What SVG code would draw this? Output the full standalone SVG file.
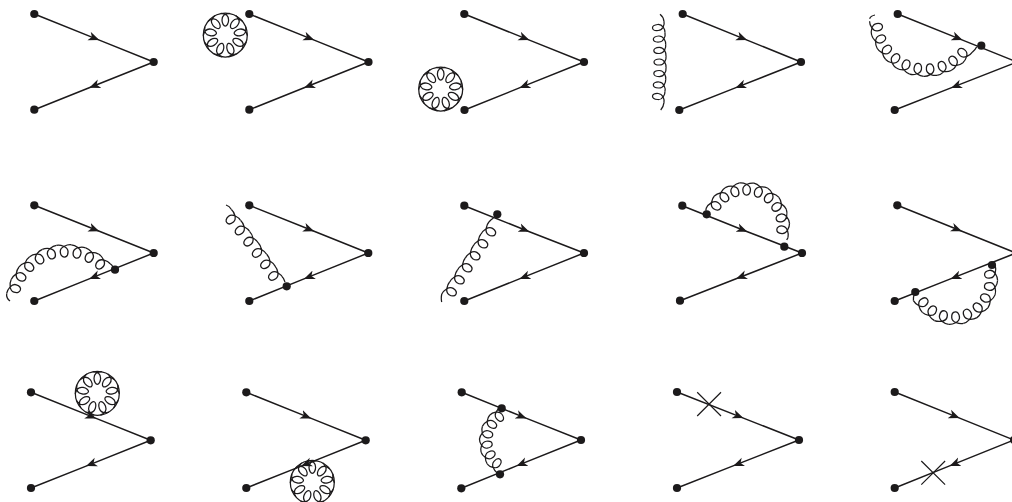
<svg xmlns="http://www.w3.org/2000/svg" width="1012" height="502" viewBox="0 0 1012 502">
<style>
.f{fill:none;stroke:#1c1a1b;stroke-width:1.5;marker-mid:url(#a)}
.g,.g use{fill:none;stroke:#1c1a1b;stroke-width:1.25}
.x{fill:none;stroke:#1c1a1b;stroke-width:1.2}
.n{fill:#1c1a1b}
</style>
<defs>
<marker id="a" markerUnits="userSpaceOnUse" markerWidth="12" markerHeight="10" refX="11" refY="5" orient="auto"><path d="M11,5L0,.5L3,5L0,9.5Z" fill="#1c1a1b" stroke="none"/></marker>
<path id="l" d="M-7,0C-3.5,-.5 3.7,1.5 3.7,6.5C3.7,10 2,12 0,12C-2,12 -3.7,10 -3.7,6.5C-3.7,1.5 3.5,-.5 7,0"/>
<path id="p" d="M-4.5,.4C-1,.5 3.3,2 3.3,7C3.3,10.5 1.5,13 0,13C-1.5,13 -3.3,10.5 -3.3,7C-3.3,2 1,.5 4.5,.4"/>
<g id="ring" class="g">
<circle r="22"/>
<use href="#p" transform="translate(0,-22)"/>
<use href="#p" transform="rotate(40) translate(0,-22)"/>
<use href="#p" transform="rotate(80) translate(0,-22)"/>
<use href="#p" transform="rotate(120) translate(0,-22)"/>
<use href="#p" transform="rotate(160) translate(0,-22)"/>
<use href="#p" transform="rotate(200) translate(0,-22)"/>
<use href="#p" transform="rotate(240) translate(0,-22)"/>
<use href="#p" transform="rotate(280) translate(0,-22)"/>
<use href="#p" transform="rotate(320) translate(0,-22)"/>
</g>
</defs>
<rect width="1012" height="502" fill="#fff"/>
<g id="connectors">
<path class="f" d="M34.3,14L99.3,40.1L153.7,62"/><path class="f" d="M153.7,62L89.2,87.8L34.3,109.7"/>
<path class="f" d="M249.3,14L314.2,40.1L368.5,62"/><path class="f" d="M368.5,62L304.1,87.8L249.3,109.7"/>
<path class="f" d="M464.3,14L529.4,40.1L584,62"/><path class="f" d="M584,62L519.4,87.9L464.5,110"/>
<path class="f" d="M682.7,14L747.1,40.1L801,62"/><path class="f" d="M801,62L735.3,87.9L679.3,110"/>
<path class="f" d="M897.7,14L962.6,40.1L1017,62"/><path class="f" d="M1017,62L951,87.9L894.7,110"/>
<path class="f" d="M34.3,205.3L99.3,231.3L153.7,253"/><path class="f" d="M153.7,253L89.2,278.9L34.3,301"/>
<path class="f" d="M249.3,205.3L314.1,231.3L368.3,253"/><path class="f" d="M368.3,253L304,278.9L249.3,301"/>
<path class="f" d="M464.3,205.7L529.4,231.7L584,253"/><path class="f" d="M584,253L519.4,278.9L464.3,301"/>
<path class="f" d="M682.3,205.7L747.4,231.7L802,253"/><path class="f" d="M802,253L736.1,278.8L680,300.7"/>
<path class="f" d="M897.3,205.3L961.9,231.3L1016,253"/><path class="f" d="M1016,253L950.5,278.9L894.7,301"/>
<path class="f" d="M31,392.3L96.1,418.4L150.7,440.3"/><path class="f" d="M150.7,440.3L86.1,466.1L31,488"/>
<path class="f" d="M246.3,392.3L311.2,418.4L365.7,440.3"/><path class="f" d="M365.7,440.3L301.2,466.1L246.3,488"/>
<path class="f" d="M461.7,392.3L526.6,418.4L581,440"/><path class="f" d="M581,440L516.5,465.9L461.3,488.3"/>
<path class="f" d="M677,392L743.4,418.1L799,440"/><path class="f" d="M799,440L733.1,465.9L677,488"/>
<path class="f" d="M894.7,392L959.6,418.1L1014,440"/><path class="f" d="M1014,440L949.6,465.9L894.7,488"/>

<g id="gluon4" class="g">
<path d="M660,14.3Q663.5,17 663.9,21.1M663.9,102.9Q663.5,107 660.7,110"/>
<g transform="translate(266,62)">
<use href="#l" transform="rotate(84.97) translate(0,-400) scale(.836,1)"/>
<use href="#l" transform="rotate(86.65) translate(0,-400) scale(.836,1)"/>
<use href="#l" transform="rotate(88.32) translate(0,-400) scale(.836,1)"/>
<use href="#l" transform="rotate(90) translate(0,-400) scale(.836,1)"/>
<use href="#l" transform="rotate(91.68) translate(0,-400) scale(.836,1)"/>
<use href="#l" transform="rotate(93.35) translate(0,-400) scale(.836,1)"/>
<use href="#l" transform="rotate(95.03) translate(0,-400) scale(.836,1)"/>
</g></g>

<g id="gluon5" class="g">
<path d="M976.7,46.7Q975.5,49.5 972.3,52.2M869.6,18.8Q870.5,16 875,15"/>
<g transform="translate(926,20)">
<use href="#l" transform="rotate(132) translate(0,-56) scale(1.01,1)"/>
<use href="#l" transform="rotate(146.4) translate(0,-56) scale(1.01,1)"/>
<use href="#l" transform="rotate(160.8) translate(0,-56) scale(1.01,1)"/>
<use href="#l" transform="rotate(175.2) translate(0,-56) scale(1.01,1)"/>
<use href="#l" transform="rotate(189.6) translate(0,-56) scale(1.01,1)"/>
<use href="#l" transform="rotate(204) translate(0,-56) scale(1.01,1)"/>
<use href="#l" transform="rotate(218.4) translate(0,-56) scale(1.01,1)"/>
<use href="#l" transform="rotate(232.8) translate(0,-56) scale(1.01,1)"/>
<use href="#l" transform="rotate(247.2) translate(0,-56) scale(1.01,1)"/>
<use href="#l" transform="rotate(261.6) translate(0,-56) scale(1.01,1)"/>
</g></g>

<g id="gluon6" class="g">
<path d="M113,267Q112,265 110.2,263.8M6.7,293.5Q6,298 10,301"/>
<g transform="translate(66,305)">
<use href="#l" transform="rotate(40) translate(0,-60) scale(1.05,1)"/>
<use href="#l" transform="rotate(26) translate(0,-60) scale(1.05,1)"/>
<use href="#l" transform="rotate(12) translate(0,-60) scale(1.05,1)"/>
<use href="#l" transform="rotate(-2) translate(0,-60) scale(1.05,1)"/>
<use href="#l" transform="rotate(-16) translate(0,-60) scale(1.05,1)"/>
<use href="#l" transform="rotate(-30) translate(0,-60) scale(1.05,1)"/>
<use href="#l" transform="rotate(-44) translate(0,-60) scale(1.05,1)"/>
<use href="#l" transform="rotate(-58) translate(0,-60) scale(1.05,1)"/>
<use href="#l" transform="rotate(-72) translate(0,-60) scale(1.05,1)"/>
</g></g>

<g id="gluon7" class="g">
<path d="M285,282L283.2,277.8M231.4,209.5Q229.5,206 226,205"/>
<use href="#l" transform="translate(279,272) rotate(56) scale(1.02,1)"/>
<use href="#l" transform="translate(271,260.3) rotate(55) scale(1.02,1)"/>
<use href="#l" transform="translate(262.6,248.7) rotate(53.5) scale(1.02,1)"/>
<use href="#l" transform="translate(254,237.3) rotate(52.5) scale(1.02,1)"/>
<use href="#l" transform="translate(245.2,226) rotate(51) scale(1.02,1)"/>
<use href="#l" transform="translate(236,215) rotate(50) scale(1.02,1)"/>
</g>

<g id="gluon8" class="g">
<path d="M493.5,218Q491,219.5 488.9,222M441.8,294Q440.8,298 441.7,302"/>
<use href="#l" transform="translate(485,228) rotate(-57) scale(1.02,1)"/>
<use href="#l" transform="translate(477.1,240) rotate(-57) scale(1.02,1)"/>
<use href="#l" transform="translate(469.3,252) rotate(-57) scale(1.02,1)"/>
<use href="#l" transform="translate(461.4,264) rotate(-57) scale(1.02,1)"/>
<use href="#l" transform="translate(453.6,276) rotate(-57) scale(1.02,1)"/>
<use href="#l" transform="translate(445.7,288) rotate(-57) scale(1.02,1)"/>
</g>

<g id="gluon9" class="g">
<path d="M705.8,210.6L706.3,207.9M788,237.6L786.7,240"/>
<g transform="translate(746,226)">
<use href="#l" transform="rotate(-56) translate(0,-43) scale(1.03,1)"/>
<use href="#l" transform="rotate(-37) translate(0,-43) scale(1.03,1)"/>
<use href="#l" transform="rotate(-18) translate(0,-43) scale(1.03,1)"/>
<use href="#l" transform="rotate(1) translate(0,-43) scale(1.03,1)"/>
<use href="#l" transform="rotate(20) translate(0,-43) scale(1.03,1)"/>
<use href="#l" transform="rotate(39) translate(0,-43) scale(1.03,1)"/>
<use href="#l" transform="rotate(58) translate(0,-43) scale(1.03,1)"/>
<use href="#l" transform="rotate(77) translate(0,-43) scale(1.03,1)"/>
<use href="#l" transform="rotate(96) translate(0,-43) scale(1.03,1)"/>
</g></g>

<g id="gluon10" class="g">
<path d="M993,265L995.3,265.9M913.4,300.6Q913,297 914.5,294"/>
<g transform="translate(953,280)">
<use href="#l" transform="rotate(81) translate(0,-44) scale(1.05,1)"/>
<use href="#l" transform="rotate(100) translate(0,-44) scale(1.05,1)"/>
<use href="#l" transform="rotate(119) translate(0,-44) scale(1.05,1)"/>
<use href="#l" transform="rotate(138) translate(0,-44) scale(1.05,1)"/>
<use href="#l" transform="rotate(157) translate(0,-44) scale(1.05,1)"/>
<use href="#l" transform="rotate(176) translate(0,-44) scale(1.05,1)"/>
<use href="#l" transform="rotate(195) translate(0,-44) scale(1.05,1)"/>
<use href="#l" transform="rotate(214) translate(0,-44) scale(1.05,1)"/>
<use href="#l" transform="rotate(233) translate(0,-44) scale(1.05,1)"/>
</g></g>

<g id="gluon13" class="g">
<g transform="translate(517,441)">
<use href="#l" transform="rotate(-36) translate(0,-37) scale(.95,1)"/>
<use href="#l" transform="rotate(-56.5) translate(0,-37) scale(.95,1)"/>
<use href="#l" transform="rotate(-77) translate(0,-37) scale(.95,1)"/>
<use href="#l" transform="rotate(-97) translate(0,-37) scale(.95,1)"/>
<use href="#l" transform="rotate(-117.5) translate(0,-37) scale(.95,1)"/>
<use href="#l" transform="rotate(-138) translate(0,-37) scale(.95,1)"/>
</g></g>
</g>

<g id="ring2"><use href="#ring" x="225.3" y="35"/></g>
<g id="ring3"><use href="#ring" x="440.7" y="89"/></g>
<g id="ring11"><use href="#ring" x="97.3" y="393.3"/></g>
<g id="ring12"><use href="#ring" x="312.3" y="482.3"/></g>
<g id="cross14"><path class="x" d="M697.2,392.3L721,416M721,392.3L697.2,416"/></g>
<g id="cross15"><path class="x" d="M921.3,461L945.1,484.6M945.1,461L921.3,484.6"/></g>

<g id="d1"><circle class="n" cx="34.3" cy="14" r="4.1"/><circle class="n" cx="153.7" cy="62" r="4.1"/><circle class="n" cx="34.3" cy="109.7" r="4.1"/></g>
<g id="d2"><circle class="n" cx="249.3" cy="14" r="4.1"/><circle class="n" cx="368.5" cy="62" r="4.1"/><circle class="n" cx="249.3" cy="109.7" r="4.1"/></g>
<g id="d3"><circle class="n" cx="464.3" cy="14" r="4.1"/><circle class="n" cx="584" cy="62" r="4.1"/><circle class="n" cx="464.5" cy="110" r="4.1"/></g>
<g id="d4"><circle class="n" cx="682.7" cy="14" r="4.1"/><circle class="n" cx="801" cy="62" r="4.1"/><circle class="n" cx="679.3" cy="110" r="4.1"/></g>
<g id="d5"><circle class="n" cx="897.7" cy="14" r="4.1"/><circle class="n" cx="981.3" cy="45.7" r="4.1"/><circle class="n" cx="1017" cy="62" r="4.1"/><circle class="n" cx="894.7" cy="110" r="4.1"/></g>
<g id="d6"><circle class="n" cx="34.3" cy="205.3" r="4.1"/><circle class="n" cx="115" cy="269.7" r="4.1"/><circle class="n" cx="153.7" cy="253" r="4.1"/><circle class="n" cx="34.3" cy="301" r="4.1"/></g>
<g id="d7"><circle class="n" cx="249.3" cy="205.3" r="4.1"/><circle class="n" cx="286.7" cy="286.3" r="4.1"/><circle class="n" cx="368.3" cy="253" r="4.1"/><circle class="n" cx="249.3" cy="301" r="4.1"/></g>
<g id="d8"><circle class="n" cx="464.3" cy="205.7" r="4.1"/><circle class="n" cx="497.3" cy="214.3" r="4.1"/><circle class="n" cx="584" cy="253" r="4.1"/><circle class="n" cx="464.3" cy="301" r="4.1"/></g>
<g id="d9"><circle class="n" cx="682.3" cy="205.7" r="4.1"/><circle class="n" cx="706.7" cy="214.3" r="4.1"/><circle class="n" cx="784.3" cy="246.7" r="4.1"/><circle class="n" cx="802" cy="253" r="4.1"/><circle class="n" cx="680" cy="300.7" r="4.1"/></g>
<g id="d10"><circle class="n" cx="897.3" cy="205.3" r="4.1"/><circle class="n" cx="992" cy="265" r="4.1"/><circle class="n" cx="915.3" cy="292" r="4.1"/><circle class="n" cx="1016" cy="253" r="4.1"/><circle class="n" cx="894.7" cy="301" r="4.1"/></g>
<g id="d11"><circle class="n" cx="31" cy="392.3" r="4.1"/><circle class="n" cx="150.7" cy="440.3" r="4.1"/><circle class="n" cx="31" cy="488" r="4.1"/></g>
<g id="d12"><circle class="n" cx="246.3" cy="392.3" r="4.1"/><circle class="n" cx="365.7" cy="440.3" r="4.1"/><circle class="n" cx="246.3" cy="488" r="4.1"/></g>
<g id="d13"><circle class="n" cx="461.7" cy="392.3" r="4.1"/><circle class="n" cx="501.7" cy="408.3" r="4.1"/><circle class="n" cx="500" cy="474.3" r="4.1"/><circle class="n" cx="581" cy="440" r="4.1"/><circle class="n" cx="461.3" cy="488.3" r="4.1"/></g>
<g id="d14"><circle class="n" cx="677" cy="392" r="4.1"/><circle class="n" cx="799" cy="440" r="4.1"/><circle class="n" cx="677" cy="488" r="4.1"/></g>
<g id="d15"><circle class="n" cx="894.7" cy="392" r="4.1"/><circle class="n" cx="1014" cy="440" r="4.1"/><circle class="n" cx="894.7" cy="488" r="4.1"/></g>
</svg>
